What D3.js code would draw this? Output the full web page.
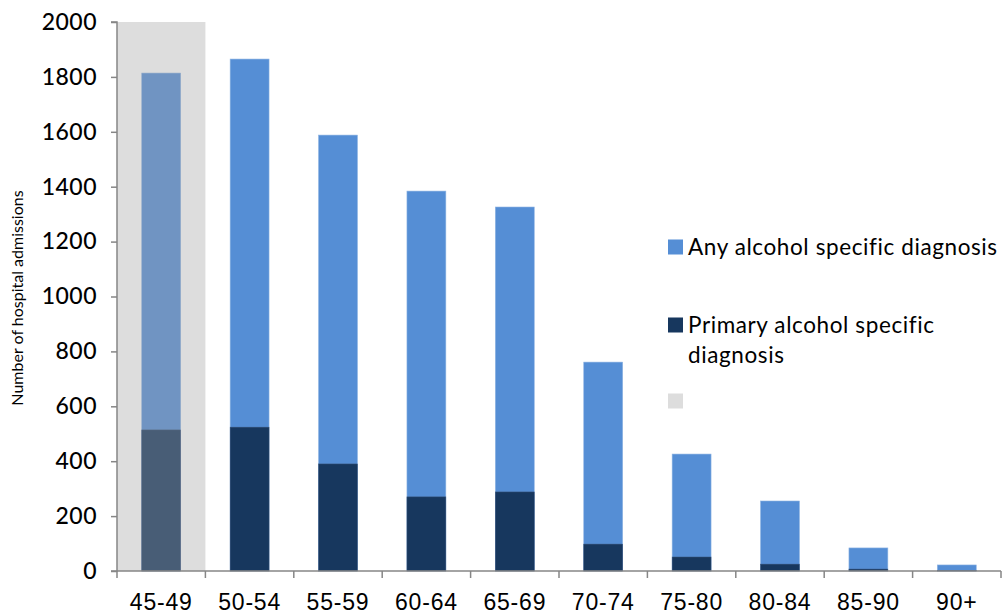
<!DOCTYPE html>
<html><head><meta charset="utf-8">
<script src="https://cdn.jsdelivr.net/npm/d3@7"></script>
<style>body{margin:0;background:#fff;} svg{display:block;font-family:Lato, "Open Sans", sans-serif;}</style>
</head><body>
<svg id="chart" width="1008" height="616"></svg>
<script>
const categories = ["45-49","50-54","55-59","60-64","65-69","70-74","75-80","80-84","85-90","90+"];
const anyDiagnosis = [1814,1865,1588,1384,1326,761,426,255,84,22];
const primaryDiagnosis = [514,524,390,270,288,98,51,25,7,1];
const highlightCategories = ["45-49"];
const highlightValue = 2000;
const yTicks = [0,200,400,600,800,1000,1200,1400,1600,1800,2000];
const seriesNames = ["Any alcohol specific diagnosis","Primary alcohol specific diagnosis",""];

(function(){
const svg = d3.select("#chart");
const mLeft = 117, mRight = 1001, mTop = 22, mBottom = 571;
const x = d3.scaleBand().domain(categories).range([mLeft,mRight]).padding(0);
const y = d3.scaleLinear().domain([0,2000]).range([mBottom,mTop]);
const bw = x.bandwidth()*0.44;
const colAny = "#558ed5", colPrim = "#17375e";
const overlayCol = "#a0a0a0", overlayOp = 0.36;

// any bars
svg.append("g").selectAll("rect").data(categories).join("rect")
  .attr("x", d => x(d) + (x.bandwidth()-bw)/2)
  .attr("width", bw)
  .attr("y", (d,i) => y(anyDiagnosis[i]))
  .attr("height", (d,i) => y(0)-y(anyDiagnosis[i]))
  .attr("fill", colAny).attr("stroke","#8db3e2").attr("stroke-width",0.6);
// primary bars
svg.append("g").selectAll("rect").data(categories).join("rect")
  .attr("x", d => x(d) + (x.bandwidth()-bw)/2)
  .attr("width", bw)
  .attr("y", (d,i) => y(primaryDiagnosis[i]))
  .attr("height", (d,i) => y(0)-y(primaryDiagnosis[i]))
  .attr("fill", colPrim).attr("stroke","#3a5478").attr("stroke-width",0.5);
// highlight overlay
svg.append("g").selectAll("rect").data(highlightCategories).join("rect")
  .attr("x", d => x(d)).attr("width", x.bandwidth())
  .attr("y", y(highlightValue)).attr("height", y(0)-y(highlightValue))
  .attr("fill", overlayCol).attr("fill-opacity", overlayOp);

// y axis
const yAxis = svg.append("g").attr("transform",`translate(${mLeft},0)`)
  .call(d3.axisLeft(y).tickValues(yTicks).tickSize(6).tickPadding(14).tickFormat(d3.format("d")));
yAxis.select(".domain").attr("stroke","#868686").attr("stroke-width",1.5).attr("d",`M-6,${mTop}H0V${mBottom}H-6`);
yAxis.selectAll(".tick line").attr("stroke","#868686").attr("stroke-width",1.5);
yAxis.selectAll(".tick text").attr("font-size",23).attr("fill","#000").attr("font-family","Lato")
  .attr("font-weight",500).attr("letter-spacing",0.5);

// x axis
const xAxis = svg.append("g").attr("transform",`translate(0,${mBottom})`)
  .call(d3.axisBottom(x).tickSize(0).tickPadding(23));
xAxis.select(".domain").attr("stroke","#868686").attr("stroke-width",1.5).attr("d",`M${mLeft},0H${mRight}`);
xAxis.selectAll(".tick text").attr("font-size",23).attr("fill","#000").attr("letter-spacing",0.8);
const bounds = categories.map(c => x(c)).concat([mRight]);
svg.append("g").selectAll("line").data(bounds).join("line")
  .attr("x1", d=>d).attr("x2", d=>d).attr("y1", mBottom).attr("y2", mBottom+7)
  .attr("stroke","#868686").attr("stroke-width",1.5);

// y title
svg.append("text").attr("transform","translate(23,298) rotate(-90)")
  .attr("text-anchor","middle").attr("font-size",16).attr("fill","#000")
  .text("Number of hospital admissions");

// legend
const lg = svg.append("g");
const legendItems = [
  {name: seriesNames[0], color: colAny, op:1, y:247, lines:["Any alcohol specific diagnosis"]},
  {name: seriesNames[1], color: colPrim, op:1, y:325, lines:["Primary alcohol specific","diagnosis"]},
  {name: seriesNames[2], color: overlayCol, op:overlayOp, y:401, lines:[]}
];
legendItems.forEach(it => {
  lg.append("rect").attr("x",668).attr("y",it.y-7.5).attr("width",15).attr("height",15)
    .attr("fill",it.color).attr("fill-opacity",it.op);
  it.lines.forEach((t,j) => {
    lg.append("text").attr("x",688).attr("y",it.y + j*30).attr("dy","0.35em")
      .attr("font-size",22.5).attr("letter-spacing",0.6).attr("fill","#000").text(t);
  });
});
})();
</script>
</body></html>
